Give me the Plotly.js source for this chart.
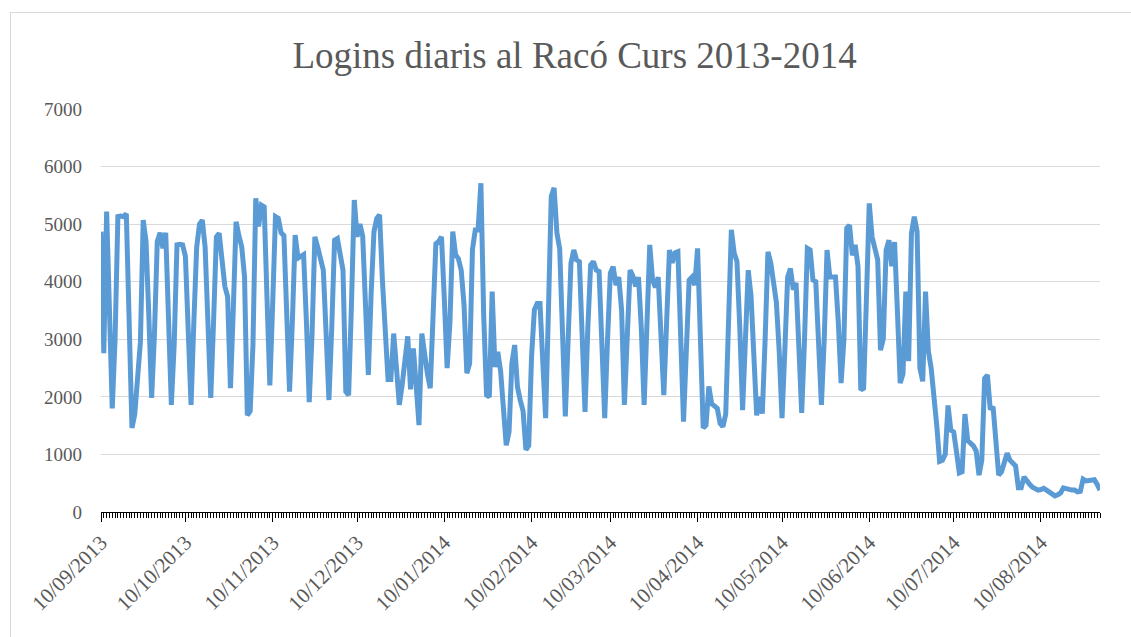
<!DOCTYPE html>
<html>
<head>
<meta charset="utf-8">
<script src="https://cdn.plot.ly/plotly-3.0.1.min.js"></script>
<style>
  html, body { margin: 0; padding: 0; background: #fff; }
  #frame { position: absolute; left: 10px; top: 12px; width: 1140px; height: 640px; border: 1px solid #d9d9d9; }
  #chart { position: absolute; left: 0; top: 0; width: 1131px; height: 637px; }
</style>
</head>
<body>
<div id="frame"></div>
<div id="chart"></div>
<script>
// daily logins, one array per month (first day: 10/09/2013)
const sep2013 = [4870, 2760, 5220, 3600, 1800, 3000, 5130, 5140, 5130, 5180, 3500, 1460, 1700, 2500, 2950, 5070, 4700, 3400, 1980, 3100, 4700]
const oct2013 = [4850, 4580, 4850, 3500, 1860, 2900, 4640, 4650, 4640, 4440, 3100, 1860, 3300, 4600, 5000, 5070, 4600, 3300, 1980, 3300, 4780, 4840, 4440, 3920, 3740, 2150, 3500, 5040, 4800, 4610, 4090]
const nov2013 = [1680, 1750, 2900, 5450, 4960, 5330, 5300, 3700, 2200, 3600, 5130, 5100, 4850, 4800, 3400, 2090, 3300, 4810, 4410, 4450, 4470, 3300, 1910, 3100, 4780, 4600, 4380, 4200, 3100, 1945]
const dec2013 = [3200, 4720, 4750, 4500, 4200, 2090, 2030, 3600, 5420, 4780, 5000, 4790, 3500, 2380, 3800, 4870, 5100, 5160, 4030, 3200, 2300, 2300, 3100, 2500, 1860, 2200, 2700, 3050, 2130, 2840, 2200]
const jan2014 = [1510, 3100, 2700, 2400, 2150, 3500, 4660, 4700, 4780, 3700, 2500, 3300, 4870, 4470, 4400, 4200, 3600, 2410, 2580, 4560, 4900, 4900, 5710, 3400, 2030, 2000, 3830, 2520, 2780, 2450, 1800]
const feb2014 = [1160, 1390, 2580, 2900, 2170, 1940, 1750, 1080, 1150, 2700, 3510, 3620, 3620, 2600, 1630, 3500, 5480, 5630, 4850, 4570, 3200, 1660, 3000, 4320, 4550, 4380, 4350, 3000]
const mar2014 = [1740, 3200, 4290, 4350, 4200, 4180, 3000, 1630, 3000, 4150, 4260, 3940, 4080, 3500, 1860, 3300, 4200, 4100, 3920, 4080, 3200, 1860, 3000, 4640, 4030, 3900, 4080, 3200, 2030, 3300, 4550]
const apr2014 = [4330, 4500, 4520, 3200, 1570, 2800, 4030, 4080, 3940, 4580, 3000, 1460, 1510, 2180, 1880, 1850, 1800, 1540, 1480, 1700, 3200, 4900, 4500, 4350, 3200, 1770, 3000, 4200, 3750, 2600]
const may2014 = [1680, 2000, 1710, 3000, 4520, 4330, 4000, 3640, 2800, 1630, 2800, 4080, 4230, 3860, 3980, 3000, 1720, 3000, 4580, 4550, 4030, 4000, 3000, 1860, 3000, 4550, 4080, 4080, 4080, 3300, 2240]
const jun2014 = [3000, 4930, 4980, 4460, 4640, 4270, 2120, 2150, 3700, 5360, 4780, 4600, 4380, 2810, 3010, 4550, 4720, 4270, 4690, 3500, 2240, 2400, 3830, 2620, 4840, 5130, 4870, 2500, 2270, 3830]
const jul2014 = [2800, 2500, 2030, 1500, 880, 900, 1000, 1850, 1420, 1390, 1050, 680, 700, 1700, 1240, 1200, 1150, 1060, 640, 900, 2320, 2380, 1780, 1830, 1200, 640, 700, 850, 1020, 900, 850]
const aug2014 = [800, 420, 420, 610, 530, 480, 430, 400, 380, 390, 410, 380, 350, 320, 280, 300, 330, 420, 400, 380, 380, 380, 350, 360, 570, 540, 540, 550, 560, 480, 380]

const logins = [].concat(sep2013, oct2013, nov2013, dec2013, jan2014, feb2014,
  mar2014, apr2014, may2014, jun2014, jul2014, aug2014)

// one category per day
const days = []
const start = new Date(Date.UTC(2013, 8, 10))
for (let i = 0; i < logins.length; i++) {
  const d = new Date(start.getTime() + i * 86400000)
  days.push(d.toISOString().slice(0, 10))
}

const tickDates = ['2013-09-10', '2013-10-10', '2013-11-10', '2013-12-10', '2014-01-10', '2014-02-10',
  '2014-03-10', '2014-04-10', '2014-05-10', '2014-06-10', '2014-07-10', '2014-08-10']
const tickLabels = ['10/09/2013', '10/10/2013', '10/11/2013', '10/12/2013', '10/01/2014', '10/02/2014',
  '10/03/2014', '10/04/2014', '10/05/2014', '10/06/2014', '10/07/2014', '10/08/2014']

const trace = {
  x: days,
  y: logins,
  type: 'scatter',
  mode: 'lines',
  line: { color: '#5b9bd5', width: 5, shape: 'linear' },
  hoverinfo: 'x+y'
}

const font = 'Liberation Serif, Times New Roman, serif'

const layout = {
  width: 1131,
  height: 637,
  margin: { l: 101, r: 31, t: 109, b: 125 },
  paper_bgcolor: 'rgba(0,0,0,0)',
  plot_bgcolor: 'rgba(0,0,0,0)',
  showlegend: false,
  title: {
    text: 'Logins diaris al Racó Curs 2013-2014',
    font: { family: font, size: 37, color: '#595959' },
    xref: 'container',
    x: 0.508,
    xanchor: 'center',
    y: 0.914,
    yanchor: 'middle'
  },
  xaxis: {
    type: 'date',
    range: [days[0], days[days.length - 1]],
    tickmode: 'array',
    tickvals: tickDates,
    ticktext: tickLabels,
    tickangle: -45,
    tickfont: { family: font, size: 21, color: '#595959' },
    ticks: 'outside',
    ticklen: 9,
    tickwidth: 1,
    tickcolor: '#000',
    showline: true,
    linecolor: '#000',
    linewidth: 1,
    showgrid: false,
    zeroline: false,
    minor: {
      tickmode: 'linear',
      tick0: days[0],
      dtick: 86400000,
      ticks: 'outside',
      ticklen: 5,
      tickwidth: 1,
      tickcolor: '#000',
      showgrid: false
    }
  },
  yaxis: {
    range: [0, 7000],
    tickvals: [0, 1000, 2000, 3000, 4000, 5000, 6000, 7000],
    tickfont: { family: font, size: 19, color: '#595959' },
    showgrid: true,
    gridcolor: '#d9d9d9',
    gridwidth: 1,
    zeroline: false,
    showline: false,
    ticks: '',
    ticklabelstandoff: 18
  }
}

Plotly.newPlot('chart', [trace], layout, { displayModeBar: false })
</script>
</body>
</html>
